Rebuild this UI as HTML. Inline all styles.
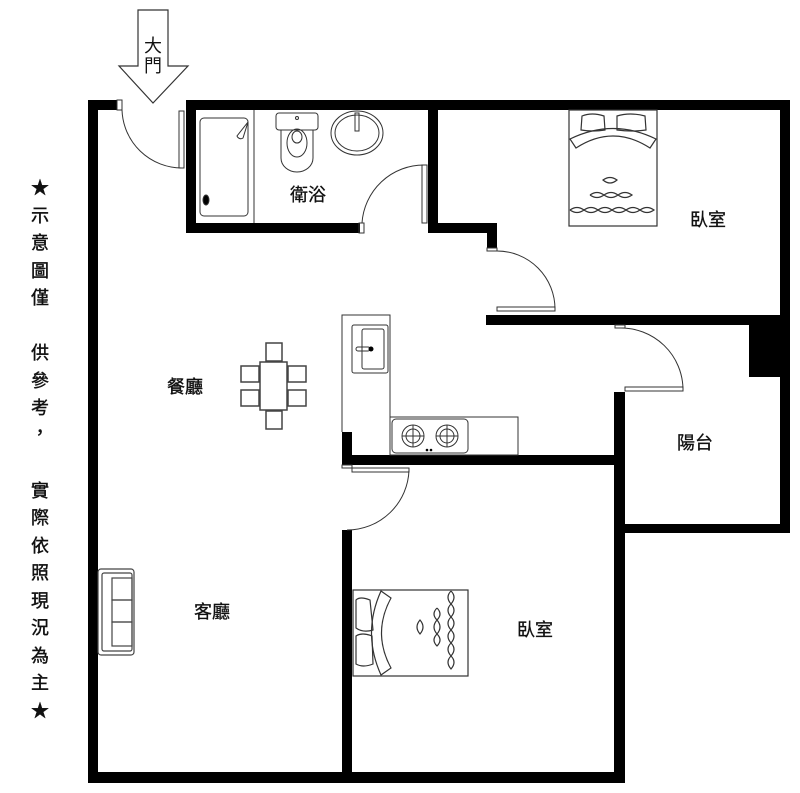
<!DOCTYPE html>
<html><head><meta charset="utf-8"><style>
body{margin:0;background:#fff}
svg{display:block}
text{font-family:"Liberation Sans","Noto Sans CJK TC",sans-serif;fill:#111}
</style></head><body>
<svg width="800" height="793" viewBox="0 0 800 793" xmlns="http://www.w3.org/2000/svg">
<rect width="800" height="793" fill="#fff"/>
<polygon points="138,10 168,10 168,66 188,66 153,103 119,66 138,66" fill="#fff" stroke="#333" stroke-width="1.2"/>
<text x="153" y="52" font-size="18" text-anchor="middle">大</text>
<text x="153" y="72" font-size="18" text-anchor="middle">門</text>
<g fill="#000">
<rect x="88" y="100" width="29" height="10"/>
<rect x="88" y="100" width="10" height="683"/>
<rect x="186" y="100" width="604" height="10"/>
<rect x="186" y="100" width="10" height="133"/>
<rect x="186" y="223" width="174" height="10"/>
<rect x="428" y="100" width="10" height="133"/>
<rect x="428" y="223" width="69" height="10"/>
<rect x="487" y="223" width="10" height="25"/>
<rect x="780" y="100" width="10" height="433"/>
<rect x="486" y="315" width="304" height="10"/>
<rect x="749" y="325" width="31" height="52"/>
<rect x="614" y="392" width="11" height="391"/>
<rect x="625" y="524" width="165" height="9"/>
<rect x="342" y="455" width="283" height="10"/>
<rect x="342" y="432" width="10" height="33"/>
<rect x="342" y="530" width="10" height="253"/>
<rect x="88" y="772" width="537" height="11"/>
</g>
<g fill="none" stroke="#333" stroke-width="1">
<rect x="117" y="100" width="5" height="10" fill="#fff"/>
<rect x="179" y="111" width="5" height="57"/>
<path d="M122,110 A60,60 0 0 0 182,168"/>
<rect x="359" y="223" width="5" height="10"/>
<rect x="422" y="165" width="5" height="58"/>
<path d="M362,223 A62,62 0 0 1 424,165"/>
<rect x="487" y="248" width="10" height="3"/>
<rect x="497" y="307" width="58" height="4"/>
<path d="M497,251 A58,58 0 0 1 555,309"/>
<rect x="615" y="325" width="10" height="3"/>
<rect x="625" y="387" width="58" height="4"/>
<path d="M620,328 A62,62 0 0 1 683,389"/>
<rect x="342" y="465" width="10" height="3"/>
<rect x="352" y="468" width="57" height="4"/>
<path d="M409,470 A62,62 0 0 1 347,530"/>
</g>
<g fill="none" stroke="#333" stroke-width="1">
<line x1="254" y1="110" x2="254" y2="223"/>
<rect x="200" y="118" width="48" height="98" rx="4"/>
<path d="M248,122 L243,138 A4,4 0 0 1 237,136 Z"/>
<ellipse cx="206" cy="200" rx="3" ry="5" fill="#000"/>
<rect x="276" y="113" width="42" height="17" rx="3"/>
<circle cx="297" cy="118" r="1.5"/>
<path d="M281,130 L281,158 A16,14 0 0 0 313,158 L313,130"/>
<ellipse cx="297" cy="143" rx="10" ry="14"/>
<ellipse cx="297" cy="137" rx="5" ry="6"/>
<ellipse cx="357" cy="133" rx="26" ry="22"/>
<ellipse cx="357" cy="133" rx="22" ry="18"/>
<rect x="355" y="113" width="4" height="18"/>
</g>
<text x="308" y="201" font-size="18" text-anchor="middle" stroke="#111" stroke-width="0.3">衛浴</text>
<g fill="none" stroke="#333" stroke-width="1.2">
<rect x="569" y="110" width="88" height="116"/>
<path d="M582,116 Q592,112 604,116 L605,130 Q593,132 581,130 Z"/>
<path d="M617,116 Q630,112 645,116 L646,130 Q632,132 617,130 Z"/>
<path d="M570,139 Q613,118 656,139 L650,148 Q613,124 576,148 Z"/>
<path d="M603,180 Q610,175 617,180 Q610,186 603,180 Z"/>
<path d="M590,195 Q597,190 604,195 Q597,200 590,195 M604,195 Q611,190 618,195 Q611,200 604,195 M618,195 Q625,190 632,195 Q625,200 618,195"/>
<path d="M570,210 Q577,205 584,210 Q577,215 570,210 M584,210 Q591,205 598,210 Q591,215 584,210 M598,210 Q605,205 612,210 Q605,215 598,210 M612,210 Q619,205 626,210 Q619,215 612,210 M626,210 Q633,205 640,210 Q633,215 626,210 M640,210 Q647,205 654,210 Q647,215 640,210"/>
</g>
<text x="708" y="226" font-size="18" text-anchor="middle" stroke="#111" stroke-width="0.3">臥室</text>
<g fill="none" stroke="#333" stroke-width="1">
<path d="M342,432 L342,315 L390,315 L390,455"/>
<rect x="352" y="325" width="36" height="48" rx="2"/>
<rect x="362" y="329" width="22" height="40" rx="2"/>
<rect x="356" y="347" width="14" height="4" rx="2"/>
</g>
<circle cx="371" cy="349" r="2.5" fill="#000"/>
<g fill="none" stroke="#333" stroke-width="1">
<rect x="390" y="417" width="128" height="38"/>
<rect x="392" y="419" width="76" height="34" rx="4"/>
<circle cx="413" cy="436" r="11"/><circle cx="413" cy="436" r="7"/>
<line x1="402" y1="436" x2="424" y2="436"/><line x1="413" y1="425" x2="413" y2="447"/>
<circle cx="447" cy="436" r="11"/><circle cx="447" cy="436" r="7"/>
<line x1="436" y1="436" x2="458" y2="436"/><line x1="447" y1="425" x2="447" y2="447"/>
</g>
<circle cx="427" cy="450" r="1.3" fill="#000"/><circle cx="431" cy="450" r="1.3" fill="#000"/>
<text x="695" y="449" font-size="18" text-anchor="middle" stroke="#111" stroke-width="0.3">陽台</text>
<g fill="none" stroke="#444" stroke-width="1.5">
<rect x="260" y="362" width="27" height="48"/>
<rect x="266" y="343" width="16" height="18"/>
<rect x="266" y="411" width="16" height="18"/>
<rect x="241" y="366" width="18" height="16"/>
<rect x="241" y="390" width="18" height="16"/>
<rect x="288" y="366" width="18" height="16"/>
<rect x="288" y="390" width="18" height="16"/>
</g>
<text x="185" y="393" font-size="18" text-anchor="middle" stroke="#111" stroke-width="0.4">餐廳</text>
<g fill="none" stroke="#444" stroke-width="1.2">
<rect x="98" y="569" width="36" height="86" rx="3"/>
<rect x="102" y="573" width="30" height="78" rx="2"/>
<rect x="112" y="578" width="20" height="22"/>
<rect x="112" y="600" width="20" height="22"/>
<rect x="112" y="622" width="20" height="24"/>
</g>
<text x="212" y="618" font-size="18" text-anchor="middle" stroke="#111" stroke-width="0.3">客廳</text>
<g fill="none" stroke="#333" stroke-width="1.2">
<rect x="353" y="590" width="115" height="86"/>
<path d="M356,600 Q360,596 370,600 L373,630 Q363,633 356,628 Z"/>
<path d="M356,636 Q362,632 372,636 L373,664 Q363,668 356,664 Z"/>
<path d="M381,591 Q362,633 381,675 L391,668 Q372,633 391,598 Z"/>
<path d="M420,620 Q414,627 420,634 Q426,627 420,620 Z"/>
<path d="M437,608 Q431,614 437,620 Q443,614 437,608 M437,620 Q431,627 437,634 Q443,627 437,620 M437,634 Q431,640 437,646 Q443,640 437,634"/>
<path d="M451,591 Q445,597 451,604 Q457,597 451,591 M451,604 Q445,610 451,617 Q457,610 451,604 M451,617 Q445,623 451,630 Q457,623 451,617 M451,630 Q445,636 451,643 Q457,636 451,630 M451,643 Q445,649 451,656 Q457,649 451,643 M451,656 Q445,662 451,669 Q457,662 451,656"/>
</g>
<text x="535" y="636" font-size="18" text-anchor="middle" stroke="#111" stroke-width="0.3">臥室</text>
<g font-size="18" text-anchor="middle" stroke="#111" stroke-width="0.4">
<text x="40" y="194">★</text>
<text x="40" y="222">示</text>
<text x="40" y="249">意</text>
<text x="40" y="277">圖</text>
<text x="40" y="304">僅</text>
<text x="40" y="359">供</text>
<text x="40" y="387">參</text>
<text x="40" y="414">考</text>
<text x="40" y="439">，</text>
<text x="40" y="497">實</text>
<text x="40" y="524">際</text>
<text x="40" y="552">依</text>
<text x="40" y="579">照</text>
<text x="40" y="607">現</text>
<text x="40" y="634">況</text>
<text x="40" y="662">為</text>
<text x="40" y="689">主</text>
<text x="40" y="717">★</text>
</g>
</svg>
</body></html>
